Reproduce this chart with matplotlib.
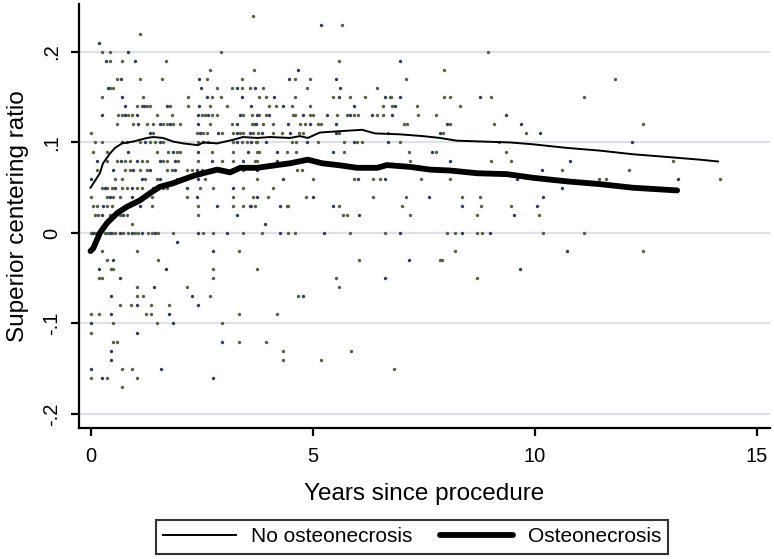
import matplotlib
matplotlib.use("Agg")
import matplotlib.pyplot as plt
from matplotlib.lines import Line2D

plt.rcParams['font.family'] = ['Liberation Sans', 'DejaVu Sans']

# ---- scatter data: (ratio, list of years) ----
scatter_rows = [
    (0.24, [3.66]),
    (0.23, [5.19, 5.66]),
    (0.22, [1.11]),
    (0.21, [0.19]),
    (0.20, [0.26, 0.44, 0.84, 2.94, 8.94]),
    (0.19, [0.35, 0.44, 0.71, 1.00, 1.70, 5.59, 6.96]),
    (0.18, [2.69, 3.68, 4.67, 7.95]),
    (0.17, [0.60, 0.69, 1.11, 1.61, 2.44, 2.62, 3.41, 4.47, 4.60, 4.94, 5.52, 7.10, 11.80]),
    (0.16, [0.39, 0.44, 0.51, 2.49, 2.85, 3.18, 3.30, 3.41, 3.59, 3.70, 3.88, 4.87, 5.61, 6.45]),
    (0.15, [0.26, 0.71, 1.18, 2.19, 2.62, 2.73, 2.94, 3.41, 3.79, 3.95, 4.13, 4.60, 5.46, 5.59,
            5.84, 6.18, 6.63, 6.74, 6.76, 6.96, 7.95, 8.09, 8.76, 9.01, 11.10]),
    (0.14, [0.78, 1.05, 1.16, 1.20, 1.27, 1.34, 1.72, 1.79, 2.19, 2.44, 2.69, 3.07, 3.61, 4.02,
            4.17, 4.33, 4.53, 4.94, 5.93, 6.58, 6.78, 6.85, 7.35, 8.32]),
    (0.13, [0.26, 0.62, 0.71, 0.78, 0.84, 0.93, 1.05, 1.50, 1.83, 2.42, 2.51, 2.58, 2.64, 2.73,
            2.85, 3.37, 3.43, 3.63, 3.75, 3.79, 3.95, 4.02, 4.56, 4.60, 4.78, 4.94, 5.01, 5.32,
            5.55, 5.77, 5.84, 5.93, 6.02, 6.33, 6.45, 6.58, 6.78, 7.37, 7.77, 9.35]),
    (0.12, [0.60, 0.96, 1.07, 1.27, 1.41, 1.56, 1.63, 1.72, 1.79, 1.86, 2.01, 2.42, 2.69, 3.18,
            3.30, 3.63, 3.68, 3.72, 3.88, 4.11, 4.44, 4.71, 4.83, 4.94, 5.12, 5.19, 5.52, 7.05,
            7.12, 8.02, 8.09, 9.08, 9.69, 12.43]),
    (0.11, [0.01, 1.34, 1.41, 2.40, 2.46, 2.53, 2.62, 2.87, 2.96, 3.21, 3.30, 3.37, 3.43, 3.59,
            3.66, 3.77, 3.86, 4.11, 4.31, 4.49, 4.69, 4.78, 5.52, 5.59, 6.69, 7.86, 7.93, 9.80, 10.11]),
    (0.10, [0.10, 0.26, 0.71, 0.82, 1.11, 1.23, 1.34, 1.45, 1.56, 1.63, 2.42, 2.53, 2.64, 3.21,
            3.30, 3.41, 3.52, 3.61, 3.72, 3.75, 3.95, 4.53, 4.62, 4.87, 5.12, 5.70, 5.93, 6.00,
            6.11, 6.69, 6.96, 9.19, 12.18]),
    (0.09, [0.06, 0.37, 0.84, 1.50, 1.74, 1.86, 1.95, 2.01, 2.42, 2.73, 3.21, 3.54, 3.75, 3.79,
            4.20, 4.42, 4.62, 5.46, 5.70, 7.17, 7.68, 7.77, 9.35]),
    (0.08, [0.15, 0.37, 0.60, 0.69, 0.78, 0.89, 1.05, 1.16, 1.27, 1.56, 1.63, 1.72, 1.90, 1.97,
            2.42, 2.73, 2.96, 3.21, 3.43, 3.70, 3.75, 4.20, 5.05, 7.19, 8.09, 9.01, 9.46, 10.79, 13.11]),
    (0.07, [0.15, 0.51, 0.78, 0.89, 0.96, 1.11, 1.27, 1.34, 1.72, 1.83, 1.90, 2.17, 2.28, 2.40,
            2.51, 2.73, 2.85, 3.21, 3.43, 3.75, 4.65, 4.76, 10.16, 10.61, 12.12]),
    (0.06, [0.00, 0.55, 0.71, 1.16, 1.23, 1.50, 1.56, 1.95, 2.13, 2.42, 2.58, 3.75, 4.33, 5.01,
            5.93, 6.02, 6.36, 6.52, 6.63, 7.44, 8.09, 9.60, 11.44, 11.60, 13.22, 14.16]),
    (0.05, [0.26, 0.33, 0.37, 0.48, 0.55, 0.71, 0.82, 0.93, 1.05, 1.16, 1.41, 1.63, 1.72, 2.17,
            2.46, 2.76, 3.21, 3.43, 4.11, 10.61]),
    (0.04, [0.00, 0.37, 0.44, 0.51, 0.66, 0.93, 1.38, 2.17, 2.40, 3.21, 3.66, 3.75, 3.99, 4.85,
            5.01, 6.36, 7.10, 7.62, 8.36, 8.76, 10.18]),
    (0.03, [0.06, 0.15, 0.28, 0.37, 0.48, 1.11, 1.38, 2.42, 2.85, 3.21, 3.43, 3.59, 3.61, 3.70,
            4.26, 4.42, 4.44, 5.46, 5.59, 7.01, 8.36, 8.79, 9.46, 10.05]),
    (0.02, [0.10, 0.17, 0.26, 0.44, 0.66, 0.73, 0.82, 2.42, 3.30, 5.68, 5.77, 6.04, 7.19, 8.70,
            9.53, 10.09]),
    (0.01, [0.93, 3.93]),
    (0.00, [0.00, 0.03, 0.06, 0.10, 0.15, 0.17, 0.33, 0.37, 0.44, 0.48, 0.55, 0.66, 0.73, 0.84,
            0.93, 1.00, 1.07, 1.16, 1.29, 1.38, 1.45, 1.52, 1.86, 2.42, 2.53, 2.76, 3.07, 3.43,
            3.86, 4.26, 4.44, 4.60, 5.25, 5.84, 6.63, 6.96, 8.02, 8.20, 8.36, 8.70, 8.81, 8.99,
            10.18, 11.10]),
    (-0.01, [1.95]),
    (-0.02, [0.26, 1.05, 2.76, 3.34, 8.20, 10.72, 12.43]),
    (-0.03, [0.37, 0.51, 1.52, 6.04, 7.17, 7.86, 7.91]),
    (-0.04, [0.19, 0.46, 0.51, 1.70, 2.76, 3.75, 9.66]),
    (-0.05, [0.19, 0.26, 0.66, 2.76, 5.52, 6.63, 8.70]),
    (-0.06, [1.05, 1.43, 2.17, 5.59]),
    (-0.07, [0.46, 1.05, 1.18, 2.28, 2.69, 4.67, 4.78]),
    (-0.08, [0.66, 0.91, 1.05, 1.36, 1.77, 2.42]),
    (-0.09, [0.01, 0.19, 0.46, 1.25, 1.36, 1.77, 3.34, 4.20]),
    (-0.10, [0.01, 0.51, 1.50, 1.86, 2.96]),
    (-0.11, [0.01, 1.05]),
    (-0.12, [0.51, 0.60, 2.96, 3.34, 3.95]),
    (-0.13, [0.46, 4.33, 5.86]),
    (-0.14, [0.46, 4.33, 5.19]),
    (-0.15, [0.01, 0.71, 0.93, 1.59, 6.83]),
    (-0.16, [0.01, 0.26, 0.37, 1.05, 2.76]),
    (-0.17, [0.71]),
]

# ---- smoothed lines ----
no_on_years = [0.00, 0.21, 0.28, 0.44, 0.55, 0.71, 0.96, 1.27, 1.41, 1.63, 1.86, 2.08, 2.42,
               2.53, 2.85, 3.21, 3.43, 3.75, 4.04, 4.49, 4.71, 4.89, 5.16, 5.46, 6.11, 6.40,
               6.96, 7.48, 7.86, 8.24, 8.83, 9.44, 9.95, 10.72, 11.46, 12.20, 12.97, 13.71, 14.12]
no_on_ratio = [0.050, 0.066, 0.077, 0.088, 0.094, 0.099, 0.101, 0.105, 0.106, 0.105, 0.101,
               0.099, 0.097, 0.100, 0.099, 0.103, 0.106, 0.105, 0.106, 0.105, 0.107, 0.105,
               0.111, 0.112, 0.114, 0.110, 0.109, 0.107, 0.105, 0.102, 0.101, 0.100, 0.098,
               0.094, 0.091, 0.087, 0.084, 0.081, 0.079]

on_years = [0.00, 0.06, 0.21, 0.37, 0.60, 0.82, 1.11, 1.34, 1.56, 1.86, 2.08, 2.31, 2.53, 2.85,
            3.14, 3.37, 3.75, 4.04, 4.49, 4.89, 5.21, 5.57, 6.00, 6.45, 6.67, 7.19, 7.64, 8.09,
            8.70, 9.37, 9.95, 10.72, 11.46, 12.20, 13.20]
on_ratio = [-0.020, -0.017, 0.000, 0.011, 0.022, 0.029, 0.036, 0.044, 0.051, 0.055, 0.059,
            0.063, 0.066, 0.070, 0.067, 0.072, 0.072, 0.074, 0.077, 0.081, 0.077, 0.075, 0.072,
            0.072, 0.075, 0.073, 0.070, 0.069, 0.066, 0.065, 0.061, 0.057, 0.054, 0.050, 0.047]

y_ticks = [-0.2, -0.1, 0.0, 0.1, 0.2]
y_ticklabels = ['-.2', '-.1', '0', '.1', '.2']
x_ticks = [0, 5, 10, 15]
x_ticklabels = ['0', '5', '10', '15']
legend_labels = ['No osteonecrosis', 'Osteonecrosis']

W, H = 774, 559
fig = plt.figure(figsize=(W / 100, H / 100), dpi=100)
ax = fig.add_axes([79 / W, 1 - 428 / H, (770 - 79) / W, (428 - 4) / H])

# scatter points
xs_a, ys_a, xs_b, ys_b = [], [], [], []
k = 0
for r, yrs in scatter_rows:
    for x in yrs:
        if k % 3 == 1:
            xs_b.append(x); ys_b.append(r)
        else:
            xs_a.append(x); ys_a.append(r)
        k += 1
ax.scatter(xs_a, ys_a, s=6, color='#55613f', linewidths=0, zorder=3)
ax.scatter(xs_b, ys_b, s=6, color='#2e3d66', linewidths=0, zorder=3)

ax.plot(no_on_years, no_on_ratio, color='black', lw=1.4, zorder=4)
ax.plot(on_years, on_ratio, color='black', lw=4.2, solid_capstyle='round', zorder=4)

ax.set_xlim(-0.26, 15.29)
ax.set_ylim(-0.2155, 0.253)
ax.set_xticks(x_ticks)
ax.set_xticklabels(x_ticklabels)
ax.set_yticks(y_ticks)
ax.set_yticklabels(y_ticklabels, rotation=90, va='center')

for s in ['top', 'right']:
    ax.spines[s].set_visible(False)
for s in ['left', 'bottom']:
    ax.spines[s].set_linewidth(1.6)
ax.tick_params(axis='both', direction='out', length=6, width=1.6, labelsize=14.5, colors='black')
ax.tick_params(axis='y', pad=7)
ax.tick_params(axis='x', pad=8)

ax.grid(axis='y', color='#dae2ec', lw=1.5, zorder=0)
ax.set_axisbelow(True)

fig.text(18 / W, 1 - 216 / H, 'Superior centering ratio', rotation=90, ha='center',
         va='center', fontsize=17.5)
fig.text(424 / W, 1 - 494 / H, 'Years since procedure', ha='center', va='center', fontsize=17.5)

handles = [Line2D([], [], color='black', lw=1.4),
           Line2D([], [], color='black', lw=4.2, solid_capstyle='round')]
leg = fig.legend(handles, legend_labels, loc='center', bbox_to_anchor=(412 / W, 1 - 537 / H),
                 ncol=2, frameon=True, fancybox=False, edgecolor='black', fontsize=15,
                 handlelength=3.5, handletextpad=0.7, columnspacing=1.35, borderpad=0.35,
                 borderaxespad=0)
leg.get_frame().set_linewidth(1.5)

fig.savefig('out.png', dpi=100)
